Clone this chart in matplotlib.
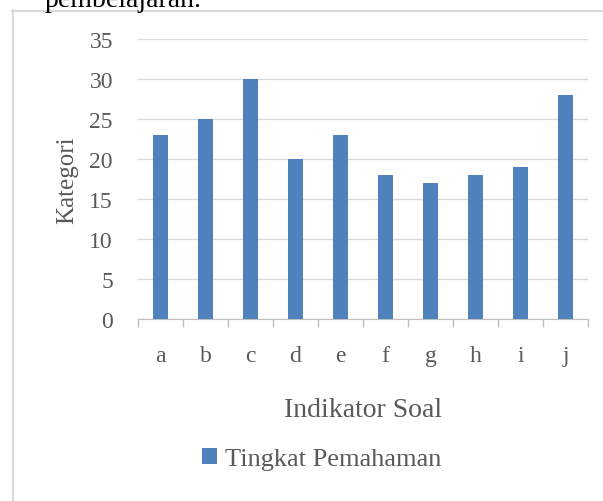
import matplotlib
matplotlib.use("Agg")
import matplotlib.pyplot as plt
from matplotlib.lines import Line2D
import numpy as np

categories = ["a", "b", "c", "d", "e", "f", "g", "h", "i", "j"]
values = [23, 25, 30, 20, 23, 18, 17, 18, 19, 28]
series_name = "Tingkat Pemahaman"
yticks = [0, 5, 10, 15, 20, 25, 30, 35]

plt.rcParams['font.family'] = ['Liberation Serif', 'DejaVu Serif']
txt = "#595959"

fig = plt.figure(figsize=(6.03, 5.02), dpi=100)
ax = fig.add_axes([138/603, 1-320/502, 450/603, 280/502])

x = np.arange(len(categories))
ax.bar(x, values, width=0.32, color="#4f81bd", label=series_name, zorder=3)
ax.set_xlim(-0.5, len(categories)-0.5)
ax.set_ylim(0, 35)
ax.set_yticks(yticks)
ax.set_yticklabels([str(v) for v in yticks], fontsize=17, color=txt)
ax.yaxis.grid(True, color="#d9d9d9", linewidth=1)
ax.set_axisbelow(True)
ax.tick_params(axis='y', length=0, pad=18)
ax.set_xticks(x)
ax.set_xticklabels(categories, fontsize=17, color=txt)
ax.set_xticks(np.arange(-0.5, len(categories)), minor=True)
ax.tick_params(axis='x', which='major', length=0, pad=19)
ax.tick_params(axis='x', which='minor', length=6, color="#bfbfbf", width=1)
for s in ['top', 'right', 'left']:
    ax.spines[s].set_visible(False)
ax.spines['bottom'].set_color("#bfbfbf")
ax.set_ylabel("Kategori", fontsize=18, color=txt, labelpad=8)
ax.set_xlabel("Indikator Soal", fontsize=20, color=txt, labelpad=22)

leg = fig.legend(loc='center', bbox_to_anchor=(322/603, 1-460/502), frameon=False,
                 fontsize=19, handlelength=0.57, handleheight=0.57, handletextpad=0.3,
                 labelcolor=txt)

fig.add_artist(Line2D([12.5/603, 12.5/603], [0, 1-11/502], color="#d9d9d9", lw=1.5))
fig.add_artist(Line2D([12/603, 1], [1-11.5/502, 1-11.5/502], color="#d9d9d9", lw=1.5))
fig.text(45/603, 1-7/502, "pembelajaran.", fontsize=20, color="black", va='baseline', ha='left')

fig.savefig("out.png", dpi=100)
